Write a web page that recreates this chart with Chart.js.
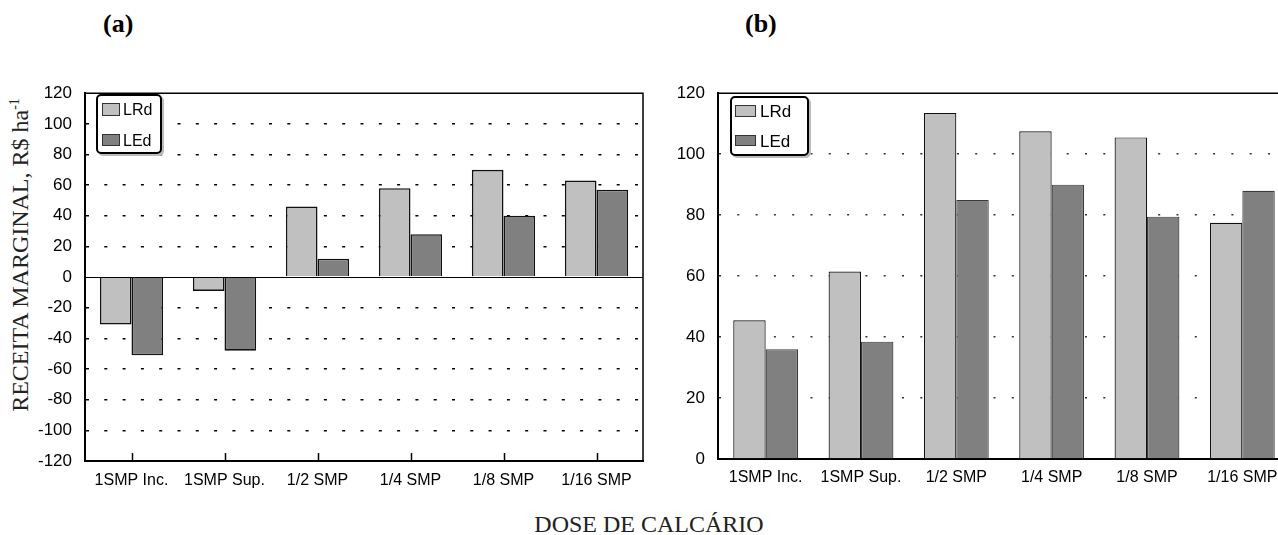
<!DOCTYPE html>
<html>
<head>
<meta charset="utf-8">
<script src="https://cdn.jsdelivr.net/npm/chart.js@4.4.1/dist/chart.umd.min.js"></script>
<style>
  body { margin: 0; width: 1278px; height: 535px; overflow: hidden; background: #fff; position: relative; font-family: "Liberation Sans", Arial, sans-serif; }
  .wrap { position: absolute; top: 70px; height: 430px; }
  #wrapA { left: 0; width: 650px; }
  #wrapB { left: 660px; width: 640px; }
  .panel { position: absolute; font-family: "Liberation Serif", "Times New Roman", serif; font-weight: bold; font-size: 26px; transform: translateY(-50%); }
  .serif { position: absolute; font-family: "Liberation Serif", "Times New Roman", serif; white-space: nowrap; transform: translate(-50%, -50%); color: #222; }
  #ylab { font-size: 24px; transform: translate(-50%, -50%) rotate(-90deg); }
  #ylab sup { font-size: 14px; }
  #xlab { font-size: 24px; }
  .legend { position: absolute; border: 2px solid #000; border-radius: 5px; box-shadow: 2px 2px 0 #bbb; background: #fff; box-sizing: border-box; }
  .legend .sw { position: absolute; box-sizing: border-box; border: 1.5px solid #333; }
  .legend .tx { position: absolute; transform: translateY(-50%); color: #000; line-height: 1; }
</style>
</head>
<body>
<div class="panel" style="left:103px; top:24px;">(a)</div>
<div class="panel" style="left:745px; top:24px;">(b)</div>
<div class="serif" id="ylab" style="left:20px; top:255px;">RECEITA MARGINAL, R$ ha<sup>-1</sup></div>
<div class="serif" id="xlab" style="left:649px; top:524px;">DOSE DE CALCÁRIO</div>

<div class="wrap" id="wrapA"><canvas id="chartA" width="650" height="430"></canvas></div>
<div class="wrap" id="wrapB"><canvas id="chartB" width="640" height="430"></canvas></div>

<div class="legend" id="legA" style="left:96px; top:94px; width:66px; height:60px;"></div>
<div class="legend" id="legB" style="left:730px; top:96px; width:79px; height:60px;"></div>

<script>
const categories = ["1SMP Inc.", "1SMP Sup.", "1/2 SMP", "1/4 SMP", "1/8 SMP", "1/16 SMP"];
const seriesNames = ["LRd", "LEd"];
const seriesColors = ["#c0c0c0", "#808080"];

// (a) receita marginal
const lrdA = [-31, -9, 46, 58, 70, 63];
const ledA = [-51, -48, 12, 28, 40, 57];

// (b)
const lrdB = [45.5, 61.5, 113.5, 107.5, 105.5, 77.5];
const ledB = [36, 38.5, 85, 90, 79.5, 88];

const tickFont = { family: "'Liberation Sans', Arial, sans-serif", size: 17 };
const catFont = { family: "'Liberation Sans', Arial, sans-serif", size: 16 };

// frame, zero line and the little ticks pointing up from the bottom axis
const framePlugin = {
  id: "frame",
  afterDatasetsDraw(chart, args, opts) {
    const { ctx, chartArea: a, scales } = chart;
    ctx.save();
    ctx.strokeStyle = "#000";
    if (opts.zero) {
      const y0 = Math.round(scales.y.getPixelForValue(0)) + 0.5;
      ctx.lineWidth = 1.2;
      ctx.beginPath();
      ctx.moveTo(a.left, y0);
      ctx.lineTo(a.right, y0);
      ctx.stroke();
    }
    ctx.lineWidth = 1.5;
    ctx.beginPath();
    ctx.moveTo(a.left, a.top);
    ctx.lineTo(a.right, a.top);
    ctx.lineTo(a.right, a.bottom);
    ctx.stroke();
    if (opts.centerTicks) {
      ctx.beginPath();
      categories.forEach((c, i) => {
        const x = Math.round(scales.x.getPixelForValue(i)) + 0.5;
        ctx.moveTo(x, a.bottom);
        ctx.lineTo(x, a.bottom - 8);
      });
      ctx.stroke();
    }
    ctx.restore();
  }
};

function makeChart(id, lrd, led, cfg) {
  return new Chart(document.getElementById(id), {
    type: "bar",
    data: {
      labels: categories,
      datasets: [
        { label: seriesNames[0], data: lrd, backgroundColor: seriesColors[0], borderColor: "#111", borderWidth: cfg.bw, barPercentage: 1, categoryPercentage: 0.68 },
        { label: seriesNames[1], data: led, backgroundColor: seriesColors[1], borderColor: cfg.ledBorder, borderWidth: cfg.bw, barPercentage: 1, categoryPercentage: 0.68 }
      ]
    },
    options: {
      responsive: false,
      animation: false,
      layout: { padding: { top: 13, right: cfg.padRight, left: 0, bottom: 0 } },
      plugins: { legend: { display: false }, tooltip: { enabled: false }, frame: cfg.frame },
      scales: {
        x: {
          z: 1,
          grid: { display: false, drawTicks: false },
          border: { display: true, color: "#000", width: 2 },
          ticks: { color: "#000", font: catFont, padding: cfg.xPad, maxRotation: 0, autoSkip: false },
          afterFit: (s) => { s.height = cfg.xHeight; }
        },
        y: {
          min: cfg.min, max: cfg.max,
          grid: {
            drawTicks: false,
            color: (c) => (c.tick.value === 0 || c.tick.value === cfg.max) ? "rgba(0,0,0,0)" : cfg.gridColor,
            lineWidth: 1.5
          },
          // in v4 the dash of the grid lines is set on the border options
          border: { display: true, color: "#000", width: 2, dash: cfg.dash, dashOffset: 0 },
          ticks: { stepSize: 20, color: "#000", font: tickFont, padding: 13 },
          afterFit: (s) => { s.width = cfg.yWidth; }
        }
      }
    },
    plugins: [framePlugin]
  });
}

makeChart("chartA", lrdA, ledA, {
  min: -120, max: 120, yWidth: 85, xHeight: 39, padRight: 7, xPad: 10,
  bw: 1.6, ledBorder: "#111", gridColor: "#000", dash: [3, 15.3],
  frame: { zero: true, centerTicks: true }
});

makeChart("chartB", lrdB, ledB, {
  min: 0, max: 120, yWidth: 58, xHeight: 41, padRight: 10, xPad: 9,
  bw: 1.2, ledBorder: "#3a3a3a", gridColor: "#333", dash: [2, 16.3],
  frame: { zero: false, centerTicks: false }
});

// legends inside the plot areas
function buildLegend(id, items) {
  const box = document.getElementById(id);
  items.forEach((it, i) => {
    const sw = document.createElement("div");
    sw.className = "sw";
    sw.style.cssText = `left:${it.sx}px; top:${it.sy}px; width:${it.sw}px; height:${it.sh}px; background:${seriesColors[i]};`;
    box.appendChild(sw);
    const tx = document.createElement("div");
    tx.className = "tx";
    tx.textContent = seriesNames[i];
    tx.style.cssText = `left:${it.tx}px; top:${it.ty}px; font-size:${it.fs}px;`;
    box.appendChild(tx);
  });
}

buildLegend("legA", [
  { sx: 4, sy: 7, sw: 18, sh: 13, tx: 25, ty: 14, fs: 16 },
  { sx: 4, sy: 38, sw: 18, sh: 12, tx: 25, ty: 45, fs: 16 }
]);
buildLegend("legB", [
  { sx: 3, sy: 7, sw: 21, sh: 12, tx: 28, ty: 13, fs: 17 },
  { sx: 3, sy: 37, sw: 21, sh: 11, tx: 28, ty: 43, fs: 17 }
]);
</script>
</body>
</html>
